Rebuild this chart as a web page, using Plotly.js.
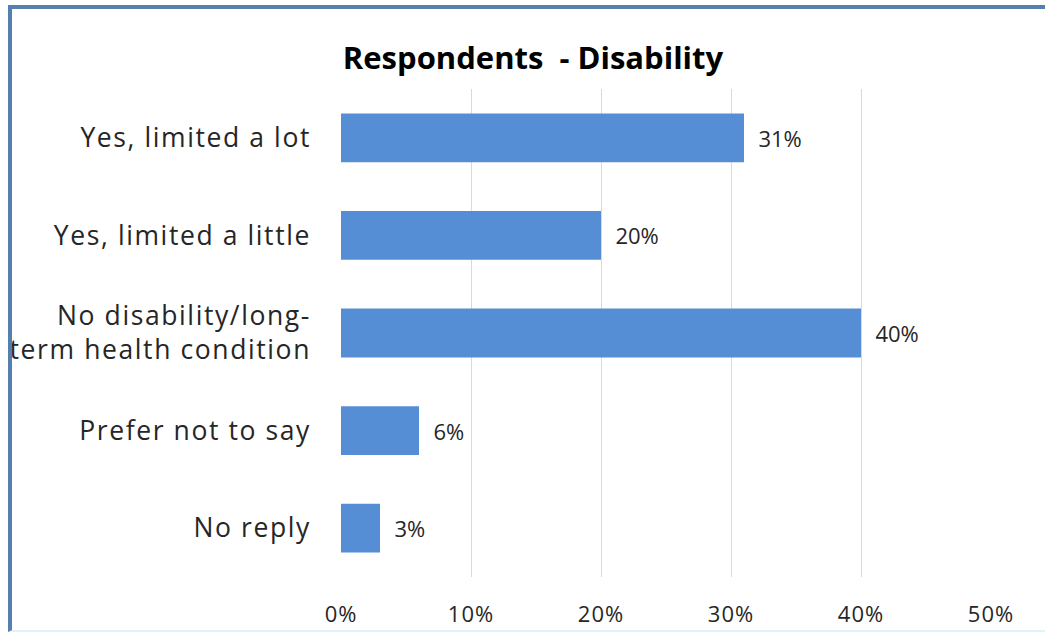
<!DOCTYPE html>
<html>
<head>
<meta charset="utf-8">
<script src="https://cdn.plot.ly/plotly-3.0.1.min.js"></script>
<style>
html,body{margin:0;padding:0;background:#fff;}
#frame{position:absolute;left:0;top:0;width:1045px;height:635px;overflow:hidden;}
#border{position:absolute;left:8px;top:5px;right:0px;bottom:3px;border-left:4px solid #5480b0;border-top:4px solid #5480b0;border-bottom:2px solid #dff3fa;pointer-events:none;z-index:5;}
#chart{position:absolute;left:0;top:0;width:1045px;height:635px;}
.ytick text{letter-spacing:1.6px;}
.xtick text, .textpoint text{letter-spacing:1px;}
</style>
</head>
<body>
<div id="frame">
<div id="chart"></div>
<div id="border"></div>
</div>
<script>
var categories = ["Yes, limited a lot", "Yes, limited a little", "No disability/long-<br>term health condition", "Prefer not to say", "No reply"];
var values = [31, 20, 40, 6, 3];
var xTickVals = [0, 10, 20, 30, 40, 50];
var xTickText = ["0%", "10%", "20%", "30%", "40%", "50%"];

var fontFam = "Open Sans, Liberation Sans, Arial, sans-serif";

var trace = {
  type: "bar",
  orientation: "h",
  y: categories,
  x: values,
  width: 0.5,
  marker: {color: "#558ed5", line: {width: 0}},
  text: values.map(function(v){return "\u00a0\u00a0" + v + "%";}),
  textposition: "outside",
  textfont: {family: fontFam, size: 22, color: "#262626"},
  cliponaxis: false,
  hoverinfo: "none"
};

var layout = {
  width: 1045,
  height: 635,
  margin: {l: 341, r: 54, t: 89, b: 58},
  paper_bgcolor: "#ffffff",
  plot_bgcolor: "#ffffff",
  showlegend: false,
  title: {
    text: "<b>Respondents  - Disability</b>",
    font: {family: fontFam, size: 31, color: "#000000"},
    x: 533/1045, xref: "container", xanchor: "center",
    y: 1 - 58/635, yref: "container", yanchor: "middle"
  },
  xaxis: {
    range: [0, 50],
    tickvals: xTickVals,
    ticktext: xTickText,
    showgrid: true,
    gridcolor: "#d9d9d9",
    gridwidth: 1,
    zeroline: false,
    showline: false,
    ticks: "",
    ticklabelstandoff: 22,
    tickfont: {family: fontFam, size: 22, color: "#262626"},
    fixedrange: true
  },
  yaxis: {
    autorange: "reversed",
    type: "category",
    showgrid: false,
    zeroline: false,
    showline: false,
    ticks: "",
    ticklabelstandoff: 29,
    tickfont: {family: fontFam, size: 26.5, color: "#262626"},
    fixedrange: true
  },
  bargap: 0.5
};

Plotly.newPlot("chart", [trace], layout, {staticPlot: true, displayModeBar: false});
</script>
</body>
</html>
